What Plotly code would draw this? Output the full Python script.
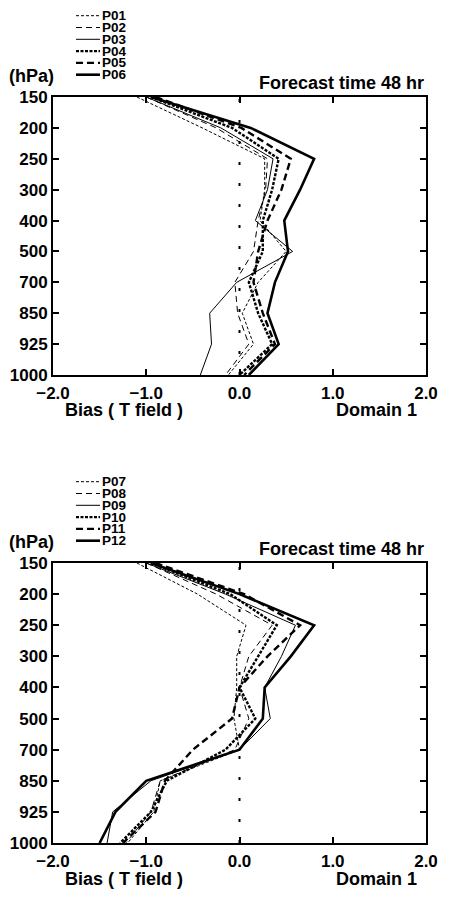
import plotly.graph_objects as go

levels = ["150", "200", "250", "300", "400", "500", "700", "850", "925", "1000"]
x_ticks = [-2.0, -1.0, 0.0, 1.0, 2.0]

# Upper panel (P01-P06), bias values at each level
p01 = [-1.10, -0.40, 0.27, 0.27, 0.22, 0.50, 0.20, 0.03, 0.15, -0.12]
p02 = [-1.00, -0.25, 0.30, 0.28, 0.20, 0.15, -0.05, -0.02, 0.10, -0.15]
p03 = [-1.00, -0.20, 0.36, 0.30, 0.17, 0.57, -0.03, -0.32, -0.30, -0.42]
p04 = [-0.95, -0.08, 0.42, 0.35, 0.25, 0.25, 0.10, 0.20, 0.35, 0.00]
p05 = [-0.90, 0.02, 0.55, 0.45, 0.30, 0.20, 0.15, 0.25, 0.38, 0.05]
p06 = [-0.95, 0.12, 0.80, 0.65, 0.48, 0.52, 0.38, 0.30, 0.42, 0.10]

# Lower panel (P07-P12)
p07 = [-1.10, -0.45, 0.07, -0.03, -0.03, -0.06, 0.00, -0.85, -0.92, -1.20]
p08 = [-1.00, -0.25, 0.35, 0.10, 0.00, 0.10, -0.05, -0.85, -0.95, -1.22]
p09 = [-1.00, -0.15, 0.60, 0.45, 0.27, 0.33, 0.00, -0.95, -1.36, -1.42]
p10 = [-0.95, -0.10, 0.40, 0.20, 0.00, 0.17, -0.15, -0.78, -0.95, -1.28]
p11 = [-0.90, 0.05, 0.65, 0.30, 0.00, -0.08, -0.50, -0.80, -0.90, -1.25]
p12 = [-0.95, 0.00, 0.80, 0.55, 0.27, 0.25, 0.00, -1.00, -1.33, -1.50]

upper_names = ["P01", "P02", "P03", "P04", "P05", "P06"]
lower_names = ["P07", "P08", "P09", "P10", "P11", "P12"]
upper_vals = [p01, p02, p03, p04, p05, p06]
lower_vals = [p07, p08, p09, p10, p11, p12]

styles = [
    dict(width=1.0, dash="3px,2px"),
    dict(width=1.0, dash="6px,4px"),
    dict(width=1.0, dash="solid"),
    dict(width=2.4, dash="3px,1.5px"),
    dict(width=2.4, dash="7px,4px"),
    dict(width=2.6, dash="solid"),
]

# page body has an 8px margin; the figure covers the window from (8, 8)
OFF = 8
W, H = 441, 891
FONT = "Liberation Sans, Arial, sans-serif"

def px(x):
    return (x - OFF) / W

def py(y):
    return 1 - (y - OFF) / H

fig = go.Figure()
for names, vals, (xa, ya) in [(upper_names, upper_vals, ("x", "y")),
                              (lower_names, lower_vals, ("x2", "y2"))]:
    for n, v, st in zip(names, vals, styles):
        fig.add_trace(go.Scatter(x=v, y=levels, mode="lines", name=n,
                                 line=dict(color="black", **st),
                                 xaxis=xa, yaxis=ya, showlegend=False))

panels = [dict(top=97, bot=375), dict(top=563, bot=843)]
axis_common = dict(showline=True, linewidth=2, linecolor="black", mirror="ticks",
                   ticks="inside", ticklen=6, tickwidth=1.5, tickcolor="black",
                   showgrid=False, zeroline=False, automargin=False,
                   tickfont=dict(family=FONT, size=17, color="black", weight="bold"))

layout = dict(template="none", width=W, height=H, margin=dict(l=0, r=0, t=0, b=0),
              paper_bgcolor="white", plot_bgcolor="white", showlegend=False)
for i, p in enumerate(panels):
    sx = "" if i == 0 else "2"
    layout["xaxis" + sx] = dict(axis_common, domain=[px(53), px(426)], range=[-2, 2],
                                tickvals=x_ticks, tickformat=".1f",
                                anchor="y" + sx, ticklabelstandoff=2)
    layout["yaxis" + sx] = dict(axis_common, domain=[py(p["bot"]), py(p["top"])],
                                type="category", categoryorder="array",
                                categoryarray=levels, range=[len(levels) - 1, 0],
                                anchor="x" + sx, ticklabelstandoff=0)
fig.update_layout(**layout)

shapes = []
annotations = []
bold = dict(family=FONT, size=18, color="black", weight="bold")
for i, (p, names) in enumerate(zip(panels, [upper_names, lower_names])):
    sx = "" if i == 0 else "2"
    off = 0 if i == 0 else 466
    shapes.append(dict(type="line", xref="x" + sx, yref="y" + sx + " domain",
                       x0=0, x1=0, y0=0, y1=1,
                       line=dict(color="black", width=2, dash="3px,18px")))
    annotations += [
        dict(text="(hPa)", x=px(31), y=py(76 + off), xref="paper", yref="paper",
             xanchor="center", yanchor="middle", showarrow=False, font=bold),
        dict(text="Forecast time 48 hr", x=px(426), y=py(83 + off), xref="paper",
             yref="paper", xanchor="right", yanchor="middle", showarrow=False, font=bold),
        dict(text="Bias ( T field )", x=px(63), y=py(410 + off + (3 if i else 0)),
             xref="paper", yref="paper", xanchor="left", yanchor="middle",
             showarrow=False, font=bold),
        dict(text="Domain 1", x=px(419), y=py(410 + off + (3 if i else 0)),
             xref="paper", yref="paper", xanchor="right", yanchor="middle",
             showarrow=False, font=bold),
    ]
    for k, (n, st) in enumerate(zip(names, styles)):
        yc = 15.7 + 11.8 * k + off
        shapes.append(dict(type="line", xref="paper", yref="paper",
                           x0=px(76), x1=px(100), y0=py(yc), y1=py(yc),
                           line=dict(color="black", **st)))
        annotations.append(dict(text=n, x=px(100), y=py(yc), xref="paper", yref="paper",
                                xanchor="left", yanchor="middle", showarrow=False,
                                font=dict(family=FONT, size=13.5, color="black", weight="bold")))

fig.update_layout(shapes=shapes, annotations=annotations)
fig.write_html("out.html")
